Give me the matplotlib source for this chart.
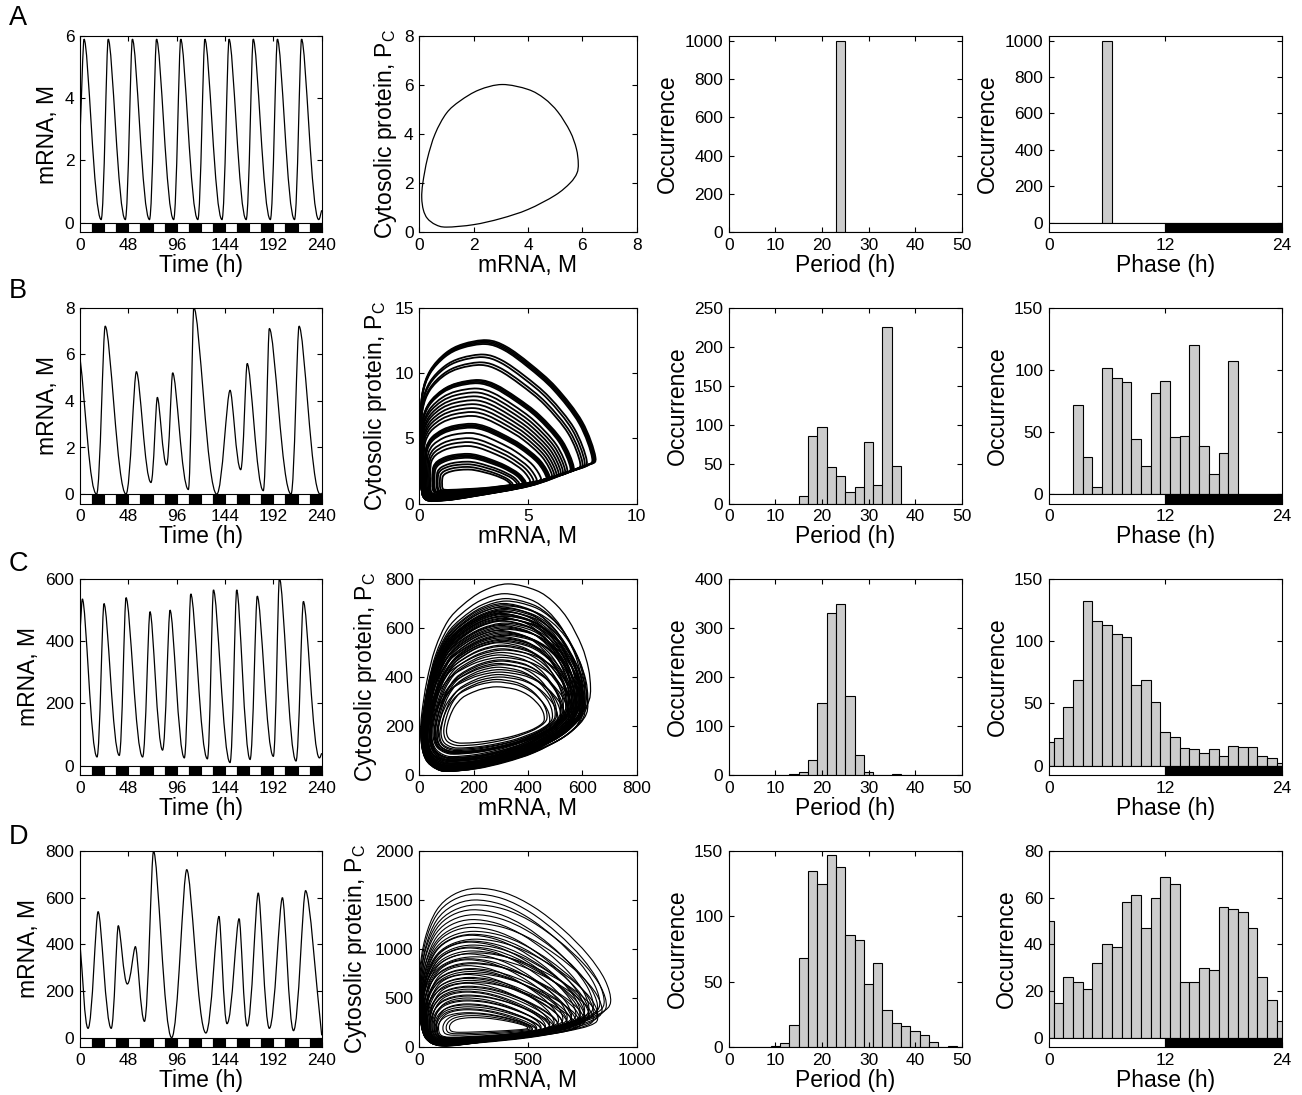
import numpy as np
import matplotlib.pyplot as plt
from matplotlib.path import Path
from matplotlib.patches import PathPatch

plt.rcParams['font.family'] = ['Liberation Sans', 'DejaVu Sans']
plt.rcParams['mathtext.fontset'] = 'custom'
plt.rcParams['mathtext.rm'] = 'Liberation Sans'

# ---- time series: extrema (time h, mRNA) ----
A_t = [0, 4, 21, 28, 45, 52, 69, 76, 93, 100, 117, 124, 141, 148, 165, 172, 189, 196, 213, 220, 237, 240]
A_v = [2.8, 5.9, 0.1, 5.9, 0.1, 5.9, 0.1, 5.9, 0.1, 5.9, 0.1, 5.9, 0.1, 5.9, 0.1, 5.9, 0.1, 5.9, 0.1, 5.9, 0.1, 0.4]
B_t = [0, 16.5, 25, 45.7, 56, 70.5, 76.8, 86, 92, 107.6, 113, 135.8, 149, 159.6, 166, 182, 188, 209.6, 217.5, 238.4, 240]
B_v = [5.85, 0.0, 7.2, 0.0, 5.25, 0.5, 4.15, 1.25, 5.2, 0.2, 8.0, 0.0, 4.45, 1.05, 5.6, 0.15, 7.1, 0.0, 7.2, 0.0, 0.05]
C_t = [0, 2.3, 16.9, 23.8, 39, 45.7, 62.2, 69.5, 82, 89.4, 103.6, 110, 126.5, 132.5, 149, 155.6, 168.9, 176, 192, 198, 214.5, 221.8, 237.7, 240]
C_v = [430, 536, 28, 521, 33, 540, 28, 495, 50, 500, 25, 552, 22, 565, 10, 565, 20, 545, 30, 603, 15, 528, 25, 40]
D_t = [0, 8, 18, 31, 38, 47, 55, 64, 73, 91, 106, 125, 138, 146, 158, 166, 177, 188, 201, 212, 224, 240]
D_v = [400, 40, 540, 40, 480, 230, 390, 70, 800, 0, 720, 20, 520, 60, 510, 50, 620, 40, 600, 30, 630, 10]

# ---- phase portraits ----
# limit cycle of panel A (M, Pc), counter-clockwise from the right tip
A_loop_m = [5.85, 5.78, 5.55, 5.1, 4.6, 4.0, 3.05, 2.2, 1.5, 1.0, 0.58, 0.3, 0.13, 0.09, 0.15, 0.3, 0.6, 1.0, 2.0, 3.0, 4.0, 5.0, 5.55, 5.8]
A_loop_p = [2.8, 3.4, 4.1, 4.9, 5.45, 5.82, 6.02, 5.8, 5.35, 4.85, 4.0, 3.0, 2.0, 1.4, 0.9, 0.55, 0.3, 0.2, 0.3, 0.55, 0.92, 1.5, 2.0, 2.4]

# loop outline shapes in unit box coordinates
B_shape_u = [1.0, 0.925, 0.776, 0.627, 0.49, 0.379, 0.242, 0.143, 0.056, 0.012, 0.0, 0.0, 0.004, 0.031, 0.143, 0.304, 0.627, 0.851, 0.963]
B_shape_v = [0.27, 0.49, 0.705, 0.852, 0.96, 1.0, 0.975, 0.918, 0.811, 0.672, 0.467, 0.262, 0.098, 0.004, 0.0, 0.025, 0.09, 0.176, 0.221]
D_shape_u = [1.0, 0.97, 0.88, 0.75, 0.6, 0.45, 0.3, 0.18, 0.09, 0.03, 0.0, 0.0, 0.03, 0.12, 0.35, 0.6, 0.82, 0.95]
D_shape_v = [0.28, 0.42, 0.58, 0.74, 0.88, 0.97, 1.0, 0.96, 0.86, 0.68, 0.45, 0.22, 0.06, 0.0, 0.03, 0.08, 0.15, 0.21]

# extents (M low, M high, Pc low, Pc high) of the individual cycles
B_m_lo = [0.05, 0.05, 0.05, 0.05, 0.06, 0.06, 0.07, 0.07, 0.08, 0.08, 0.08, 0.08, 0.1, 0.1, 0.12, 0.12, 0.14, 0.15, 0.17, 0.2,
          0.25, 0.25, 0.28, 0.3, 0.35, 0.4, 0.45, 0.5, 0.6, 0.62, 0.65, 0.7, 0.8, 0.85, 0.95, 1.05]
B_m_hi = [8.1, 8.05, 8.0, 7.95, 7.7, 7.6, 7.5, 7.4, 7.1, 7.05, 7.0, 6.95, 6.8, 6.7, 6.6, 6.5, 6.4, 6.3, 6.2, 6.1,
          6.0, 5.95, 5.9, 5.85, 5.6, 5.4, 5.25, 5.1, 4.9, 4.85, 4.8, 4.75, 4.6, 4.5, 4.3, 4.2]
B_p_lo = [0.25, 0.25, 0.27, 0.27, 0.3, 0.3, 0.32, 0.32, 0.35, 0.35, 0.35, 0.36, 0.38, 0.4, 0.42, 0.44, 0.46, 0.48, 0.5, 0.52,
          0.55, 0.56, 0.57, 0.58, 0.62, 0.66, 0.7, 0.74, 0.82, 0.84, 0.86, 0.88, 0.92, 0.96, 1.0, 1.05]
B_p_hi = [12.5, 12.4, 12.3, 12.2, 11.4, 11.2, 10.8, 10.6, 9.45, 9.4, 9.3, 9.2, 8.8, 8.5, 8.2, 7.9, 7.6, 7.3, 7.0, 6.7,
          6.1, 6.0, 5.9, 5.8, 5.4, 5.0, 4.7, 4.4, 3.8, 3.7, 3.6, 3.5, 3.2, 3.0, 2.8, 2.6]

C_m_lo = [5, 10, 8, 12, 6, 15, 10, 20, 8, 18, 12, 10, 25, 15, 8, 20, 12, 30, 15, 35,
          20, 12, 40, 25, 45, 30, 15, 50, 55, 20, 60, 40, 70, 55, 35, 80, 65, 90, 75, 100,
          8, 14, 10, 18, 22, 9, 14, 28, 16, 24, 10, 38, 18, 42, 28, 32, 38, 45, 58, 65]
C_m_hi = [630, 600, 610, 590, 620, 580, 600, 570, 610, 560, 590, 600, 550, 580, 620, 570, 600, 560, 590, 540,
          580, 600, 550, 570, 530, 560, 590, 540, 520, 570, 530, 550, 500, 520, 540, 490, 510, 470, 480, 460,
          615, 595, 605, 585, 575, 605, 595, 565, 585, 575, 610, 555, 595, 545, 575, 565, 555, 545, 525, 505]
C_p_lo = [15, 20, 15, 25, 18, 30, 20, 35, 15, 40, 25, 20, 45, 30, 15, 40, 25, 55, 30, 60,
          35, 20, 70, 45, 75, 55, 30, 85, 90, 40, 95, 70, 100, 90, 60, 110, 95, 120, 105, 130,
          18, 22, 18, 30, 35, 18, 25, 48, 30, 40, 20, 62, 32, 68, 45, 50, 58, 65, 88, 92]
C_p_hi = [780, 740, 720, 700, 690, 685, 675, 670, 665, 660, 655, 650, 645, 640, 635, 630, 620, 610, 600, 590,
          580, 570, 560, 550, 540, 525, 510, 500, 490, 480, 465, 450, 440, 430, 420, 410, 400, 390, 380, 360,
          710, 695, 680, 668, 658, 648, 638, 628, 615, 605, 595, 585, 575, 565, 555, 545, 530, 515, 470, 455]

D_m_lo = [0, 2, 5, 3, 8, 5, 10, 6, 12, 8, 15, 10, 18, 12, 20, 15, 25, 12, 30, 20,
          35, 25, 30, 40, 35, 40, 50, 45, 50, 60, 55, 70, 65, 80, 75, 90, 85, 110, 125, 140,
          10, 14, 18, 10, 22, 16, 28, 20, 32, 26, 40, 48, 52, 60, 70, 80]
D_m_hi = [880, 850, 830, 860, 800, 820, 780, 840, 760, 800, 740, 820, 720, 780, 700, 760, 680, 800, 660, 740,
          640, 720, 700, 620, 680, 660, 600, 640, 620, 580, 600, 560, 580, 540, 560, 520, 540, 520, 510, 500,
          780, 760, 740, 820, 700, 760, 680, 740, 660, 720, 640, 600, 620, 580, 560, 540]
D_p_lo = [10, 12, 15, 12, 18, 15, 20, 15, 25, 20, 25, 18, 30, 25, 30, 28, 35, 25, 40, 32,
          45, 35, 40, 50, 45, 50, 60, 55, 60, 70, 65, 80, 75, 90, 85, 100, 95, 120, 135, 150,
          20, 22, 26, 18, 30, 26, 36, 30, 42, 36, 50, 58, 62, 70, 80, 90]
D_p_hi = [1620, 1560, 1500, 1450, 1400, 1350, 1300, 1260, 1220, 1180, 1140, 1100, 1070, 1040, 1010, 980, 950, 920, 890, 860,
          830, 800, 770, 740, 710, 680, 650, 620, 590, 560, 530, 500, 470, 440, 410, 380, 350, 340, 320, 300,
          1150, 1080, 1020, 960, 900, 850, 790, 750, 700, 660, 610, 570, 520, 480, 430, 390]

# ---- histograms ----
period_centers = np.arange(0, 51, 2)
A_period = [0] * 12 + [1000] + [0] * 13
B_period = [0, 0, 0, 0, 0, 0, 0, 0, 9, 86, 97, 46, 35, 15, 21, 79, 24, 225, 48, 0, 0, 0, 0, 0, 0, 0]
C_period = [0, 0, 0, 0, 0, 0, 1, 2, 7, 31, 146, 330, 349, 162, 41, 6, 0, 0, 2, 0, 0, 0, 0, 0, 0, 0]
D_period = [0, 0, 0, 0, 0, 1, 3, 17, 68, 135, 125, 147, 138, 86, 82, 48, 64, 28, 18, 16, 12, 9, 4, 0, 1, 0]

phase_centers = np.arange(0, 25)
A_phase = [0] * 6 + [1000] + [0] * 18
B_phase = [0, 0, 0, 72, 30, 6, 101, 93, 90, 44, 23, 81, 91, 46, 47, 120, 39, 16, 33, 107, 0, 0, 0, 0, 0]
C_phase = [19, 22, 47, 69, 132, 116, 113, 106, 103, 65, 69, 51, 27, 23, 14, 13, 10, 13, 8, 16, 15, 15, 8, 6, 2]
D_phase = [50, 15, 26, 24, 21, 32, 40, 39, 58, 61, 47, 60, 69, 66, 24, 24, 30, 29, 56, 55, 54, 47, 26, 16, 7]

TICK_FS = 12.5
LABEL_FS = 16.5


def wave_path(t, v, hp=0.25, ht=0.42):
    n = len(t)
    kind = []
    for i in range(n):
        if i == 0 or i == n - 1:
            kind.append('e')
        elif v[i] >= v[i - 1] and v[i] >= v[i + 1]:
            kind.append('p')
        else:
            kind.append('t')
    verts = [(t[0], v[0])]
    codes = [Path.MOVETO]
    for i in range(n - 1):
        t0, v0, t1, v1 = t[i], v[i], t[i + 1], v[i + 1]
        dt = t1 - t0
        if kind[i] == 'e':
            c1 = (t0 + dt / 3, v0 + (v1 - v0) / 3)
        else:
            c1 = (t0 + (hp if kind[i] == 'p' else ht) * dt, v0)
        if kind[i + 1] == 'e':
            c2 = (t1 - dt / 3, v1 - (v1 - v0) / 3)
        else:
            c2 = (t1 - (hp if kind[i + 1] == 'p' else ht) * dt, v1)
        verts += [c1, c2, (t1, v1)]
        codes += [Path.CURVE4] * 3
    return Path(verts, codes)


def loop_path(xs, ys):
    pts = np.column_stack([xs, ys])
    n = len(pts)
    verts = [tuple(pts[0])]
    codes = [Path.MOVETO]
    for i in range(n):
        p0, p1, p2, p3 = pts[i - 1], pts[i], pts[(i + 1) % n], pts[(i + 2) % n]
        verts += [tuple(p1 + (p2 - p0) / 6), tuple(p2 - (p3 - p1) / 6), tuple(p2)]
        codes += [Path.CURVE4] * 3
    return Path(verts, codes)


def style(ax):
    for s in ax.spines.values():
        s.set_linewidth(0.8)
    ax.tick_params(direction='in', top=True, right=True, length=3.5, width=0.8,
                   labelsize=TICK_FS, pad=4)


def ld_bar(ax, starts, width, bottom):
    cols = ['white' if (s // 12) % 2 == 0 else 'black' for s in starts]
    ax.bar(starts, [-bottom] * len(starts), bottom=bottom, width=width, align='edge',
           color=cols, edgecolor='k', linewidth=0.8, zorder=3)


def ts_panel(ax, t, v, ytop, yticks):
    bottom = -0.05 * ytop
    ax.add_patch(PathPatch(wave_path(t, v), fill=False, lw=0.9, edgecolor='k', zorder=4))
    ld_bar(ax, list(range(0, 240, 12)), 12, bottom)
    ax.set_xlim(0, 240)
    ax.set_ylim(bottom, ytop)
    ax.set_xticks([0, 48, 96, 144, 192, 240])
    ax.set_yticks(yticks)
    ax.set_xlabel('Time (h)', fontsize=LABEL_FS, labelpad=1)
    ax.set_ylabel('mRNA, M', fontsize=LABEL_FS, labelpad=4)
    style(ax)


def portrait_panel(ax, loops, xlim, ylim, xticks, yticks, lw):
    for xs, ys in loops:
        ax.add_patch(PathPatch(loop_path(xs, ys), fill=False, lw=lw, edgecolor='k'))
    ax.set_xlim(*xlim)
    ax.set_ylim(*ylim)
    ax.set_xticks(xticks)
    ax.set_yticks(yticks)
    ax.set_xlabel('mRNA, M', fontsize=LABEL_FS, labelpad=1)
    ax.set_ylabel('Cytosolic protein, P$_\\mathregular{C}$', fontsize=LABEL_FS, labelpad=4)
    style(ax)


def box_loops(su, sv, mlo, mhi, plo, phi):
    su = np.array(su)
    sv = np.array(sv)
    out = []
    for a, b, c, d in zip(mlo, mhi, plo, phi):
        out.append((a + su * (b - a), c + sv * (d - c)))
    return out


def period_panel(ax, counts, ytop, yticks):
    ax.bar(period_centers, counts, width=2, color='#cccccc', edgecolor='k', linewidth=0.8)
    ax.set_xlim(0, 50)
    ax.set_ylim(0, ytop)
    ax.set_xticks([0, 10, 20, 30, 40, 50])
    ax.set_yticks(yticks)
    ax.set_xlabel('Period (h)', fontsize=LABEL_FS, labelpad=1)
    ax.set_ylabel('Occurrence', fontsize=LABEL_FS, labelpad=4)
    style(ax)


def phase_panel(ax, counts, ytop, yticks):
    bottom = -0.05 * ytop
    ax.bar(phase_centers, counts, width=1, color='#cccccc', edgecolor='k', linewidth=0.8)
    ld_bar(ax, [0, 12], 12, bottom)
    ax.set_xlim(0, 24)
    ax.set_ylim(bottom, ytop)
    ax.set_xticks([0, 12, 24])
    ax.set_yticks(yticks)
    ax.set_xlabel('Phase (h)', fontsize=LABEL_FS, labelpad=1)
    ax.set_ylabel('Occurrence', fontsize=LABEL_FS, labelpad=4)
    style(ax)


W, H = 1302, 1095
fig = plt.figure(figsize=(W / 100, H / 100), dpi=100)

cols = [(80, 241.7), (419.3, 217.4), (728.7, 233), (1048.7, 233)]
row_tops = [36, 307.5, 579, 851]
row_h = 196


def make_ax(r, c):
    x, w = cols[c]
    return fig.add_axes([x / W, 1 - (row_tops[r] + row_h) / H, w / W, row_h / H])


# A
ts_panel(make_ax(0, 0), A_t, A_v, 6, [0, 2, 4, 6])
portrait_panel(make_ax(0, 1), [(A_loop_m, A_loop_p)], (0, 8), (0, 8),
               [0, 2, 4, 6, 8], [0, 2, 4, 6, 8], 0.9)
period_panel(make_ax(0, 2), A_period, 1025, [0, 200, 400, 600, 800, 1000])
phase_panel(make_ax(0, 3), A_phase, 1025, [0, 200, 400, 600, 800, 1000])

# B
ts_panel(make_ax(1, 0), B_t, B_v, 8, [0, 2, 4, 6, 8])
portrait_panel(make_ax(1, 1), box_loops(B_shape_u, B_shape_v, B_m_lo, B_m_hi, B_p_lo, B_p_hi),
               (0, 10), (0, 15), [0, 5, 10], [0, 5, 10, 15], 1.3)
period_panel(make_ax(1, 2), B_period, 250, [0, 50, 100, 150, 200, 250])
phase_panel(make_ax(1, 3), B_phase, 150, [0, 50, 100, 150])

# C
a_u = (np.array(A_loop_m) - min(A_loop_m)) / (max(A_loop_m) - min(A_loop_m))
a_v = (np.array(A_loop_p) - min(A_loop_p)) / (max(A_loop_p) - min(A_loop_p))
ts_panel(make_ax(2, 0), C_t, C_v, 600, [0, 200, 400, 600])
portrait_panel(make_ax(2, 1), box_loops(a_u, a_v, C_m_lo, C_m_hi, C_p_lo, C_p_hi),
               (0, 800), (0, 800), [0, 200, 400, 600, 800], [0, 200, 400, 600, 800], 0.9)
period_panel(make_ax(2, 2), C_period, 400, [0, 100, 200, 300, 400])
phase_panel(make_ax(2, 3), C_phase, 150, [0, 50, 100, 150])

# D
ts_panel(make_ax(3, 0), D_t, D_v, 800, [0, 200, 400, 600, 800])
portrait_panel(make_ax(3, 1), box_loops(D_shape_u, D_shape_v, D_m_lo, D_m_hi, D_p_lo, D_p_hi),
               (0, 1000), (0, 2000), [0, 500, 1000], [0, 500, 1000, 1500, 2000], 0.8)
period_panel(make_ax(3, 2), D_period, 150, [0, 50, 100, 150])
phase_panel(make_ax(3, 3), D_phase, 80, [0, 20, 40, 60, 80])

for letter, top in zip('ABCD', [5, 278, 551, 824]):
    fig.text(9 / W, 1 - top / H, letter, fontsize=19.5, va='top', ha='left')

fig.savefig('out.png', dpi=100)
